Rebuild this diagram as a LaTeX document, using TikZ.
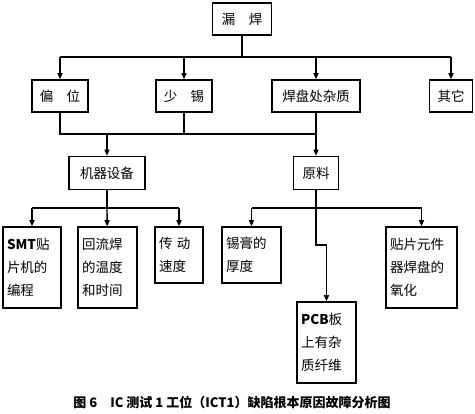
\documentclass[tikz,border=0pt]{standalone}
\usepackage{fontspec}
\usepackage{tikz}
\usetikzlibrary{positioning,arrows.meta,calc}
\newfontfamily\cjk{Noto Sans CJK SC}
\tikzset{
  cause/.style={rectangle,draw=black,line width=1.4pt,align=center,minimum height=32pt,inner sep=3pt,font=\cjk\fontsize{13.5}{23}\selectfont},
  leaf/.style={rectangle,draw=black,line width=1.4pt,align=left,inner sep=4pt,font=\cjk\fontsize{13.5}{23}\selectfont},
  edge/.style={-{Triangle[length=2.2mm,width=1.8mm]},line width=1.4pt},
  link/.style={line width=1.4pt}
}

\begin{document}
\begin{tikzpicture}[x=1pt,y=-1pt]
  \useasboundingbox (0,0) rectangle (475,414);
  \node[cause,minimum width=59pt] (top) at (242,19) {漏\quad 焊};
  \node[cause,minimum width=56pt] (pianwei) at (60,96) {偏\quad 位};
  \node[cause,minimum width=56pt] (shaoxi) at (184,96) {少\quad 锡};
  \node[cause,minimum width=88pt] (zazhi) at (316,96) {焊盘处杂质};
  \node[cause,minimum width=43pt] (qita) at (451,96) {其它};
  \node[cause,minimum width=76pt,minimum height=33pt] (jiqi) at (107,173) {机器设备};
  \node[cause,minimum width=45pt,minimum height=33pt] (yuanliao) at (316,173) {原料};
  \node[leaf,text width=50pt,minimum height=81pt] (smt) at (32,267.5) {{\bfseries SMT}贴\\片机的\\编程};
  \node[leaf,text width=51pt,minimum height=81pt] (huiliu) at (107.5,267.5) {回流焊\\的温度\\和时间};
  \node[leaf,text width=40pt,minimum height=56pt] (chuandong) at (179,255) {传\ 动\\速度};
  \node[leaf,text width=51pt,minimum height=56pt] (xigao) at (251.5,255) {锡膏的\\厚度};
  \node[leaf,text width=51pt,minimum height=81pt] (pcb) at (326.5,342.5) {{\bfseries PCB}板\\上有杂\\质纤维};
  \node[leaf,text width=63pt,minimum height=81pt] (yanghua) at (421.5,267.5) {贴片元件\\器焊盘的\\氧化};
  \node[font=\cjk\bfseries\fontsize{13}{15}\selectfont] (caption) at (232,402) {图 6\quad IC 测试 1 工位（ICT1）缺陷根本原因故障分析图};
  \coordinate (j1) at (242,57);
  \coordinate (j2) at (107,134);
  \coordinate (j3) at (107,208);
  \coordinate (j4) at (316,208);
  \coordinate (bend) at (316,245);
  \draw[link] (top) -- (j1);
  \draw[link] (pianwei.north |- j1) -- (qita.north |- j1);
  \draw[edge] (pianwei.north |- j1) -- (pianwei);
  \draw[edge] (shaoxi.north |- j1) -- (shaoxi);
  \draw[edge] (zazhi.north |- j1) -- (zazhi);
  \draw[edge] (qita.north |- j1) -- (qita);
  \draw[link] (pianwei) -- (pianwei.south |- j2) -- (zazhi.south |- j2) -- (zazhi);
  \draw[link] (shaoxi) -- (shaoxi.south |- j2);
  \draw[edge] (j2) -- (jiqi);
  \draw[edge] (yuanliao.north |- j2) -- (yuanliao);
  \draw[link] (jiqi) -- (j3);
  \draw[link] (smt.north |- j3) -- (chuandong.north |- j3);
  \draw[edge] (smt.north |- j3) -- (smt);
  \draw[edge] (j3) -- (huiliu);
  \draw[edge] (chuandong.north |- j3) -- (chuandong);
  \draw[link] (yuanliao) -- (j4);
  \draw[link] (xigao.north |- j4) -- (yanghua.north |- j4);
  \draw[edge] (xigao.north |- j4) -- (xigao);
  \draw[edge] (yanghua.north |- j4) -- (yanghua);
  \draw[edge] (j4) -- (bend) -| (pcb);
\end{tikzpicture}
\end{document}
